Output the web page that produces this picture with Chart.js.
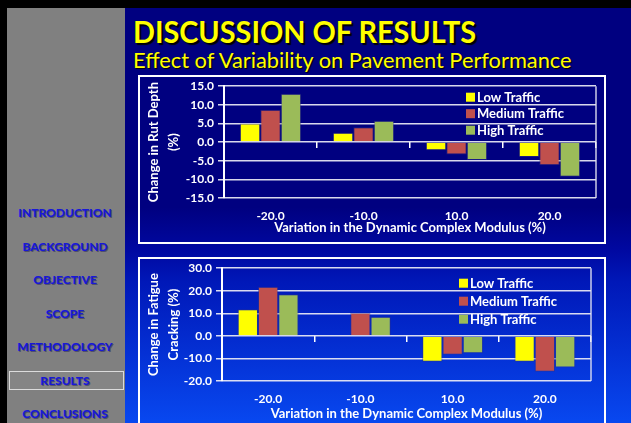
<!DOCTYPE html>
<html>
<head>
<meta charset="utf-8">
<script src="https://cdn.jsdelivr.net/npm/chart.js@4.4.1/dist/chart.umd.min.js"></script>
<style>
body { margin: 0; width: 631px; height: 423px; overflow: hidden; background: #000; font-family: Lato, 'Liberation Sans', sans-serif; position: relative; }
#sidebar { position: absolute; left: 7px; top: 8px; width: 118px; height: 415px; background: #808080; }
#main { position: absolute; left: 125px; top: 8px; width: 506px; height: 415px;
  background: linear-gradient(to bottom, #000080 0%, #000080 48%, #0008a0 58%, #0018b8 66%, #0848f0 100%); }
.nav { position: absolute; left: 0; width: 118px; text-align: center; font-weight: 900; font-size: 12px; line-height: 16px; color: #1818d8; text-shadow: 1px 1px 0 rgba(0,0,70,0.4); }
#active { position: absolute; left: 9px; top: 371px; width: 113px; height: 17px; border: 1.5px solid #dcdcdc; background: #858585; }
#title { position: absolute; left: 133px; top: 12px; font-size: 31px; font-weight: bold; color: #ffff00; text-shadow: 2px 2px 1px #000; white-space: nowrap; transform: scaleX(0.93); transform-origin: left top; }
#subtitle { position: absolute; left: 133px; top: 46px; font-size: 21.8px; color: #ffff00; text-shadow: 1px 1px 1px #000; white-space: nowrap; }
.box { position: absolute; border: 2px solid #fff; }
canvas { position: absolute; }
</style>
</head>
<body>
<div id="sidebar"></div>
<div id="main"></div>
<div id="active"></div>
<div id="nav"></div>
<div id="title">DISCUSSION OF RESULTS</div>
<div id="subtitle">Effect of Variability on Pavement Performance</div>
<div class="box" style="left:138px; top:75px; width:464px; height:165px;"></div>
<div class="box" style="left:138px; top:257px; width:464px; height:180px;"></div>
<canvas id="rutChart" width="463" height="167" style="left:141px; top:75px;"></canvas>
<canvas id="crackChart" width="463" height="166" style="left:141px; top:257px;"></canvas>
<script>
// ----- DATA -----
const categories = ['-20.0', '-10.0', '10.0', '20.0'];
const seriesNames = ['Low Traffic', 'Medium Traffic', 'High Traffic'];
const seriesColors = ['#ffff00', '#c0504d', '#9bbb59'];

// Change in rut depth (%)
const rutLow = [5.0, 2.5, -2.2, -4.0];
const rutMedium = [8.7, 4.0, -3.3, -6.2];
const rutHigh = [13.0, 5.7, -4.8, -9.3];
const rutTicks = [-15, -10, -5, 0, 5, 10, 15];

// Change in fatigue cracking (%)
const crackLow = [11.8, 0, -11.5, -11.5];
const crackMedium = [21.8, 10.3, -8.4, -15.9];
const crackHigh = [18.4, 8.5, -7.7, -14.0];
const crackTicks = [-20, -10, 0, 10, 20, 30];

const xTitle = 'Variation in the Dynamic Complex Modulus (%)';
const navItems = ['INTRODUCTION', 'BACKGROUND', 'OBJECTIVE', 'SCOPE', 'METHODOLOGY', 'RESULTS', 'CONCLUSIONS'];

// ----- SIDEBAR -----
const nav = document.getElementById('nav');
navItems.forEach((name, i) => {
    const d = document.createElement('div');
    d.className = 'nav';
    d.style.left = '6px';
    d.style.top = (205 + i * 33.5) + 'px';
    d.textContent = name;
    nav.appendChild(d);
});

Chart.defaults.font.family = "Lato, 'Liberation Sans', sans-serif";

// legend drawn inside the plot area
const insideLegend = {
    id: 'insideLegend',
    afterDatasetsDraw(chart, args, opts) {
        const { ctx, chartArea } = chart;
        const x = chartArea.right - opts.right;
        ctx.save();
        ctx.font = "bold 13px Lato, 'Liberation Sans', sans-serif";
        ctx.textBaseline = 'middle';
        chart.data.datasets.forEach((ds, i) => {
            const y = chartArea.top + opts.top + i * opts.rowGap;
            ctx.fillStyle = ds.backgroundColor;
            ctx.fillRect(x, y - 4.5, 9, 9);
            ctx.fillStyle = '#ffffff';
            ctx.fillText(ds.label, x + 11, y + 0.5);
        });
        ctx.restore();
    }
};

// right edge of the plot frame
const plotEdge = {
    id: 'plotEdge',
    beforeDatasetsDraw(chart) {
        const { ctx, chartArea } = chart;
        ctx.save();
        ctx.strokeStyle = 'rgba(225,225,240,0.9)';
        ctx.lineWidth = 1.5;
        ctx.beginPath();
        ctx.moveTo(chartArea.right, chartArea.top);
        ctx.lineTo(chartArea.right, chartArea.bottom);
        ctx.stroke();
        ctx.restore();
    }
};

function buildChart(id, series, ticks, yTitle, yWidth, xHeight, pad, legendOpts) {
    const ctx = document.getElementById(id).getContext('2d');
    return new Chart(ctx, {
        type: 'bar',
        data: {
            labels: categories,
            datasets: series.map((s, i) => ({
                label: seriesNames[i],
                data: s,
                backgroundColor: seriesColors[i],
                borderColor: 'rgba(50,50,130,0.5)',
                borderWidth: 1,
                categoryPercentage: 0.66,
                barPercentage: 1
            }))
        },
        options: {
            responsive: false,
            animation: false,
            layout: { padding: pad },
            plugins: {
                legend: { display: false },
                tooltip: { enabled: false },
                insideLegend: legendOpts
            },
            scales: {
                x: {
                    position: { y: 0 },
                    offset: true,
                    ticks: { display: false },
                    grid: { offset: true, drawOnChartArea: false, tickLength: 6, color: '#ffffff', lineWidth: 1.5 },
                    border: { display: false }
                },
                x2: {
                    axis: 'x',
                    type: 'category',
                    labels: categories,
                    position: 'bottom',
                    offset: true,
                    afterFit: scale => { scale.height = xHeight; },
                    grid: { display: false, drawTicks: false },
                    border: { display: false },
                    ticks: { color: '#ffffff', padding: 12, font: { size: 12, weight: 'bold', lineHeight: 1 } },
                    title: { display: true, text: xTitle, color: '#ffffff', padding: 0, font: { size: 13, weight: 'bold', lineHeight: 1 } }
                },
                y: {
                    min: ticks[0],
                    max: ticks[ticks.length - 1],
                    afterBuildTicks: scale => { scale.ticks = ticks.map(v => ({ value: v })); },
                    afterFit: scale => { scale.width = yWidth; },
                    ticks: { color: '#ffffff', padding: 4, font: { size: 12, weight: 'bold' }, callback: v => v.toFixed(1) },
                    grid: { color: 'rgba(235,235,245,0.92)', lineWidth: 1.5, tickLength: 6 },
                    border: { color: '#ffffff', width: 2 },
                    title: { display: true, text: yTitle, color: '#ffffff', padding: { top: 3, bottom: 0 }, font: { size: 13, weight: 'bold', lineHeight: 1.55 } }
                }
            }
        },
        plugins: [insideLegend, plotEdge]
    });
}

buildChart('rutChart', [rutLow, rutMedium, rutHigh], rutTicks,
    ['Change in Rut Depth', '(%)'], 83, 36,
    { top: 4, right: 8, bottom: 8 },
    { right: 130, top: 11, rowGap: 16.5 });

buildChart('crackChart', [crackLow, crackMedium, crackHigh], crackTicks,
    ['Change in Fatigue', 'Cracking (%)'], 81, 39,
    { top: 4, right: 13, bottom: 3 },
    { right: 132, top: 15, rowGap: 18 });
</script>
</body>
</html>
